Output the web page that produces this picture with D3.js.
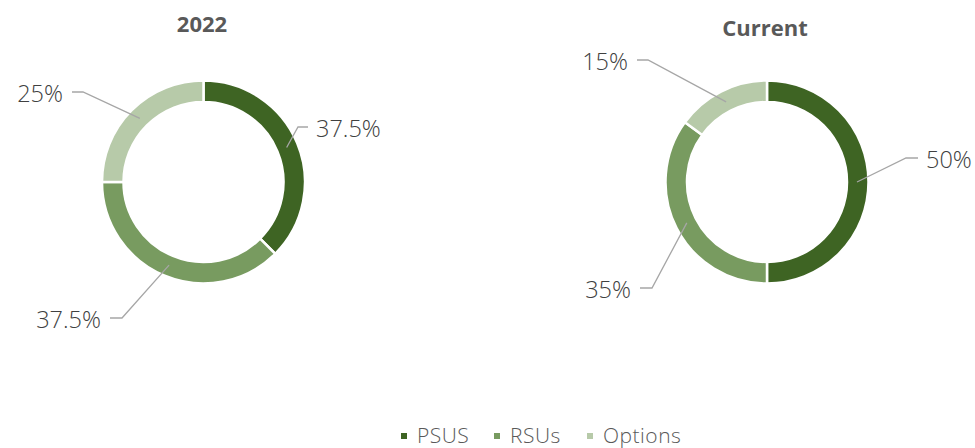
<!DOCTYPE html>
<html><head><meta charset="utf-8">
<script src="https://cdn.jsdelivr.net/npm/d3@7"></script>
<style>body{margin:0;background:#fff}svg{display:block}</style>
</head><body><svg id="c" width="975" height="448"></svg>
<script>
const categories = ["PSUS", "RSUs", "Options"];
const chartTitles = ["2022", "Current"];
const values2022 = [37.5, 37.5, 25];
const valuesCurrent = [50, 35, 15];
const labels2022 = ["37.5%", "37.5%", "25%"];
const labelsCurrent = ["50%", "35%", "15%"];
const colors = ["#3e6423", "#789b60", "#b7caa9"];

const svg = d3.select("#c");
const font = "'Open Sans', sans-serif";
const color = d3.scaleOrdinal().domain(categories).range(colors);

// layout: centre, and per-slice label elbow/text placement
const charts = [
  {title: chartTitles[0], values: values2022, labels: labels2022, cx: 203.5, cy: 182, tx: 202, ty: 32,
   lab: [{ex: 298, ey: 127, hx: 308, side: 1}, {ex: 122, ey: 318, hx: 110, side: -1}, {ex: 83, ey: 92, hx: 72, side: -1}]},
  {title: chartTitles[1], values: valuesCurrent, labels: labelsCurrent, cx: 767, cy: 182, tx: 765, ty: 36,
   lab: [{ex: 906, ey: 158, hx: 918, side: 1}, {ex: 652, ey: 288, hx: 640, side: -1}, {ex: 648, ey: 60, hx: 637, side: -1}]}
];

const outerR = 101.5, innerR = 80, labelR = 90;
const pie = d3.pie().sort(null).value(d => d.v);
const arc = d3.arc().innerRadius(innerR).outerRadius(outerR);

charts.forEach(ch => {
  const data = pie(ch.values.map((v, i) => ({v, k: categories[i], l: ch.labels[i]})));
  const g = svg.append("g").attr("transform", `translate(${ch.cx},${ch.cy})`);
  g.selectAll("path.s").data(data).join("path")
    .attr("d", arc)
    .attr("fill", d => color(d.data.k))
    .attr("stroke", "#fff").attr("stroke-width", 2.5);
  data.forEach((d, i) => {
    const a = (d.startAngle + d.endAngle) / 2;
    const sx = labelR * Math.sin(a), sy = -labelR * Math.cos(a);
    const L = ch.lab[i];
    const pts = [[sx, sy], [L.ex - ch.cx, L.ey - ch.cy], [L.hx - ch.cx, L.ey - ch.cy]];
    g.append("path").attr("d", d3.line()(pts))
      .attr("fill", "none").attr("stroke", "#a6a6a6").attr("stroke-width", 1.3);
    g.append("text")
      .attr("x", L.hx - ch.cx + (L.side > 0 ? 8 : -9))
      .attr("y", L.ey - ch.cy + 2)
      .attr("dy", "0.35em")
      .attr("text-anchor", L.side > 0 ? "start" : "end")
      .attr("font-family", font).attr("font-weight", 300).attr("font-size", 23.5).attr("fill", "#404040")
      .text(d.data.l);
  });
  svg.append("text").attr("x", ch.tx).attr("y", ch.ty)
    .attr("text-anchor", "middle").attr("font-family", font)
    .attr("font-weight", "bold").attr("font-size", 22).attr("fill", "#595959")
    .text(ch.title);
});

// legend
const legendX = [401, 494, 587];
const lg = svg.append("g");
categories.forEach((c, i) => {
  lg.append("rect").attr("x", legendX[i]).attr("y", 433).attr("width", 6).attr("height", 6).attr("fill", color(c));
  lg.append("text").attr("x", legendX[i] + 16).attr("y", 443)
    .attr("font-family", font).attr("font-weight", 300).attr("font-size", 21).attr("letter-spacing", 0.5).attr("fill", "#595959").text(c);
});
</script></body></html>
